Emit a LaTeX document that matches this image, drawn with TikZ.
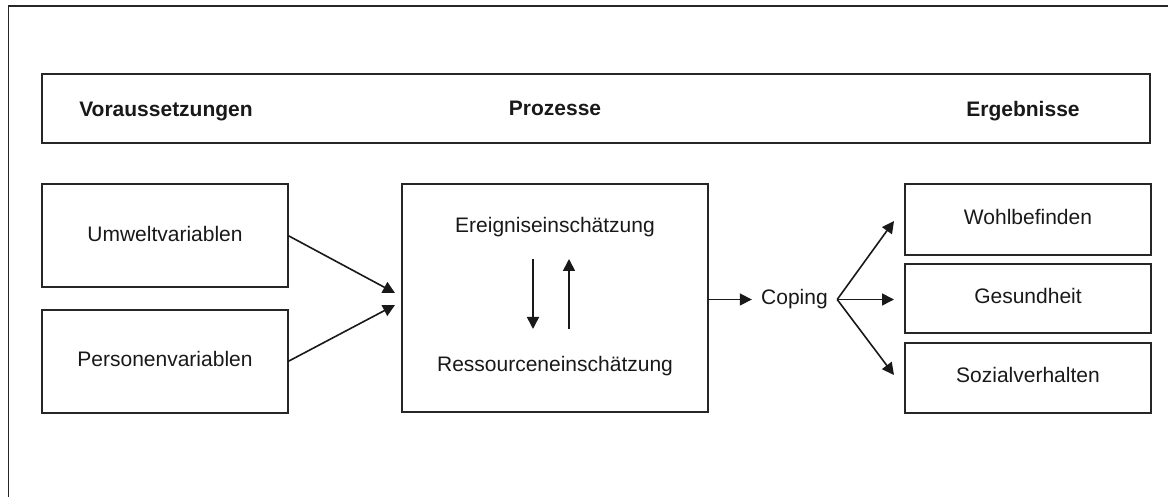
\documentclass[tikz,border=0pt]{standalone}
\usepackage{fontspec}
\setmainfont{Liberation Sans}
\usetikzlibrary{arrows.meta}
\begin{document}
\begin{tikzpicture}[x=0.5pt,y=-0.5pt,
  every node/.style={font=\fontsize{10.5}{12.6}\selectfont, text=black!90, text height=7.6pt, text depth=2.2pt},
  boxnode/.style={draw=black!85, line width=0.85pt, inner sep=0pt, outer sep=0pt, minimum width=123pt},
  headtext/.style={font=\fontsize{10.5}{12.6}\selectfont\bfseries},
  conn/.style={draw=black!90, line width=0.8pt, -{Triangle[length=6pt,width=6pt]}},
  frameline/.style={draw=black!85, line width=0.75pt}]
\useasboundingbox (0,0) rectangle (1168,497);
% outer frame (top and left edges)
\draw[frameline] (8.5,497) -- (8.5,6) -- (1168,6);
% header
\node[boxnode, minimum width=554pt, minimum height=34.5pt] (head) at (596,108.5) {};
\node[headtext] (vor) at (166,111) {Voraussetzungen};
\node[headtext] (pro) at (555,110.5) {Prozesse};
\node[headtext] (erg) at (1023,111) {Ergebnisse};
% left boxes
\node[boxnode, minimum height=51.5pt] (umw) at (165,235.5) {};
\node (umwt) at (165,236) {Umweltvariablen};
\node[boxnode, minimum height=51.5pt] (per) at (165,361.5) {};
\node (pert) at (165,361.5) {Personenvariablen};
% middle box
\node[boxnode, minimum width=153pt, minimum height=114pt] (mid) at (555,298) {};
\node (ere) at (555,227.5) {Ereigniseinschätzung};
\node (res) at (555,366.5) {Ressourceneinschätzung};
\coordinate (dtop) at (533,259);
\coordinate (dbot) at (533,329);
\coordinate (utop) at (569,259);
\coordinate (ubot) at (569,329);
\draw[conn] (dtop) -- (dbot);
\draw[conn] (ubot) -- (utop);
% inputs
\coordinate (ina) at (395,293);
\coordinate (inb) at (395,305);
\draw[conn] (umw.east) -- (ina);
\draw[conn] (per.east) -- (inb);
% coping
\node[inner xsep=4.5pt, inner ysep=0pt] (cop) at (794.5,299.5) {Coping};
\draw[conn] (mid.east |- cop.center) -- (cop.west);
% right boxes
\node[boxnode, minimum height=35.5pt] (wohl) at (1028,219.5) {};
\node (wohlt) at (1028,219.5) {Wohlbefinden};
\node[boxnode, minimum height=34.5pt] (ges) at (1028,298.5) {};
\node (gest) at (1028,298.5) {Gesundheit};
\node[boxnode, minimum height=35pt] (soz) at (1028,378) {};
\node (sozt) at (1028,377.5) {Sozialverhalten};
\coordinate (ow) at (894,221);
\coordinate (og) at (894,299.5);
\coordinate (os) at (894,375);
\draw[conn] (cop.east) -- (ow);
\draw[conn] (cop.east) -- (og);
\draw[conn] (cop.east) -- (os);
\end{tikzpicture}
\end{document}
